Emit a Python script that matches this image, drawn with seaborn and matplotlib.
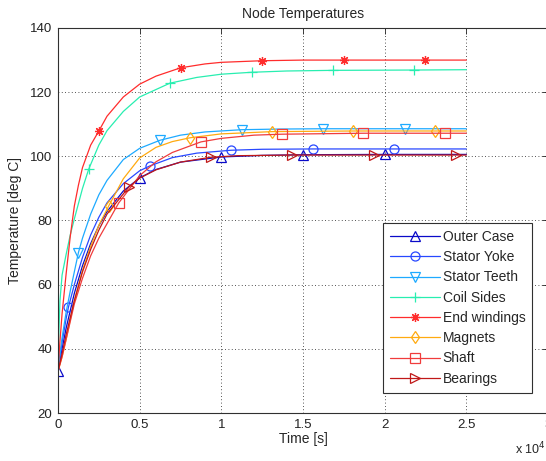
import matplotlib
matplotlib.use("Agg")
import seaborn as sns
from matplotlib import pyplot as plt
from matplotlib.ticker import FuncFormatter

# Node temperatures: time [s], temperature [deg C]
# (the marker times are part of each time list)
outer_t = [0, 250, 500, 1000, 1500, 2000, 2500, 3000, 4000, 5000, 6000, 7500, 10000, 12500, 15000, 20000, 25000]
outer_T = [33, 40, 46.5, 57.3, 65.9, 72.8, 78.4, 82.8, 89.2, 93.3, 95.9, 98.2, 99.8, 100.3, 100.5, 100.6, 100.6]
outer_m = [0, 5000, 10000, 15000, 20000]

yoke_t = [0, 100, 250, 500, 640, 1000, 1500, 2000, 2500, 3000, 4000, 5000, 5620, 7000, 8500, 10600, 12500, 15620, 20600, 25000]
yoke_T = [33, 36.5, 42, 49.5, 53, 60, 68.5, 75.5, 81, 85.5, 91.5, 95.5, 97, 99.6, 101, 101.9, 102.2, 102.3, 102.3, 102.3]
yoke_m = [640, 5620, 10600, 15620, 20600]

teeth_t = [0, 100, 250, 500, 750, 1000, 1250, 1500, 2000, 2500, 3000, 4000, 5000, 6240, 7500, 9000, 11250, 13500, 16230, 21220, 25000]
teeth_T = [33, 37.5, 43.5, 51.5, 58, 64, 70, 74.5, 82, 88, 92.5, 99, 102.5, 105, 106.6, 107.6, 108.3, 108.5, 108.6, 108.6, 108.6]
teeth_m = [1250, 6240, 11250, 16230, 21220]

coil_t = [0, 60, 120, 250, 500, 750, 1000, 1500, 1880, 2500, 3000, 4000, 5000, 6850, 8500, 10000, 11860, 14000, 16840, 21820, 25000]
coil_T = [33, 46, 55, 63, 69.5, 75.5, 80.5, 90, 96, 103.5, 108, 114, 118.5, 122.8, 124.6, 125.6, 126.2, 126.6, 126.8, 126.9, 127]
coil_m = [1880, 6850, 11860, 16840, 21820]

endw_t = [0, 100, 250, 500, 750, 1000, 1250, 1500, 2000, 2490, 3000, 4000, 5000, 6000, 7510, 9000, 10000, 12490, 15000, 17490, 20000, 22490, 25000]
endw_T = [33, 41, 51, 63.5, 75, 84.5, 91, 96.5, 103.5, 107.8, 112.5, 118.5, 122.5, 125, 127.6, 128.8, 129.3, 129.8, 130, 130, 130, 130, 130]
endw_m = [2490, 7510, 12490, 17490, 22490]

magn_t = [0, 250, 500, 750, 1000, 1500, 2000, 2500, 3100, 4000, 5000, 6000, 7000, 8100, 10000, 13100, 18080, 23060, 25000]
magn_T = [33, 37.5, 43, 49, 55, 64.5, 72, 78.5, 84.5, 93, 99.5, 102.8, 104.6, 105.8, 107, 107.7, 107.9, 107.9, 107.9]
magn_m = [3100, 8100, 13100, 18080, 23060]

shaft_t = [0, 250, 500, 750, 1000, 1500, 2000, 2500, 3000, 3720, 5000, 6000, 7000, 8750, 10000, 12000, 13700, 18700, 23700, 25000]
shaft_T = [33, 37.5, 43, 48.5, 54, 62, 69, 74.5, 79, 85.5, 94, 98.3, 101.2, 104.5, 105.6, 106.6, 106.9, 107.2, 107.2, 107.2]
shaft_m = [3720, 8750, 13700, 18700, 23700]

bear_t = [0, 250, 500, 1000, 1500, 2000, 2500, 3000, 4350, 5000, 6000, 7500, 9340, 11000, 14340, 19340, 24340, 25000]
bear_T = [33, 38.5, 44.5, 55, 64, 71, 77, 82, 90.5, 93.2, 95.8, 98.2, 99.7, 100.2, 100.4, 100.4, 100.4, 100.4]
bear_m = [4350, 9340, 14340, 19340, 24340]

names = ['Outer Case', 'Stator Yoke', 'Stator Teeth', 'Coil Sides',
         'End windings', 'Magnets', 'Shaft', 'Bearings']

sns.set_theme(style="white")
plt.rcParams['font.family'] = ['Liberation Sans', 'DejaVu Sans']

fig = plt.figure(figsize=(5.46, 4.61), dpi=100)
# axes runs past the right edge like in the cropped screenshot
ax = fig.add_axes([58 / 546, 48 / 461, 490 / 546, 385 / 461])

series = [
    (outer_t, outer_T, outer_m, '#0a0ac8', '^'),
    (yoke_t, yoke_T, yoke_m, '#2848ff', 'o'),
    (teeth_t, teeth_T, teeth_m, '#1eaaff', 'v'),
    (coil_t, coil_T, coil_m, '#28eeb0', '+'),
    (endw_t, endw_T, endw_m, '#ff2c2c', (8, 2, 0)),  # matlab style asterisk
    (magn_t, magn_T, magn_m, '#ffaa10', 'd'),
    (shaft_t, shaft_T, shaft_m, '#f03c3c', 's'),
    (bear_t, bear_T, bear_m, '#c01818', '>'),
]

for name, (t, temp, marks, col, mk) in zip(names, series):
    idx = [t.index(m) for m in marks]
    sns.lineplot(x=t, y=temp, ax=ax, color=col, linewidth=0.9, label=name,
                 marker=mk, markevery=idx, markersize=6.5,
                 markerfacecolor='none', markeredgecolor=col, markeredgewidth=0.9)

ax.set_xlim(0, 30000)
ax.set_ylim(20, 140)
ax.set_xticks(range(0, 30001, 5000))
ax.set_yticks(range(20, 141, 20))
ax.xaxis.set_major_formatter(FuncFormatter(lambda v, p: '%g' % (v / 1e4)))
ax.grid(True, color='k', linestyle=(0, (1, 3)), linewidth=0.6)
ax.tick_params(direction='in', top=True, right=True, length=4, width=0.6,
               labelsize=9.5, colors='#222222', pad=4)
for s in ax.spines.values():
    s.set_color('#303030')
    s.set_linewidth(0.8)

ax.set_title('Node Temperatures', fontsize=10, pad=7.5)
ax.set_xlabel('Time [s]', fontsize=10, labelpad=1)
ax.set_ylabel('Temperature [deg C]', fontsize=10, labelpad=6)
fig.text(515 / 546, 0.015, r'x 10$^4$', fontsize=9, ha='left', va='baseline')

leg = ax.legend(loc='upper left', bbox_to_anchor=((383 - 58) / 490, (413 - 223) / 385),
                borderaxespad=0, fontsize=10, frameon=True, fancybox=False,
                edgecolor='#303030', framealpha=1, handlelength=3.6,
                handletextpad=0.2, labelspacing=0.45, borderpad=0.5)
leg.get_frame().set_linewidth(0.8)

fig.savefig('out.png', dpi=100)
